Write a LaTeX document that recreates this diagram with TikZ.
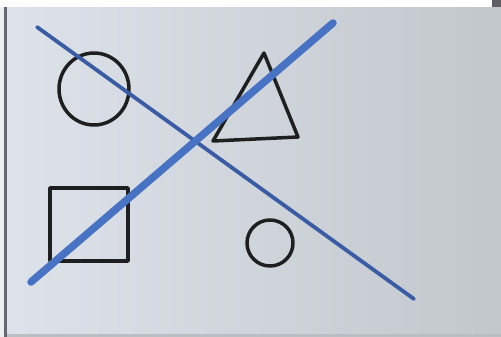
\documentclass[tikz,border=0pt]{standalone}
\definecolor{bgl}{RGB}{222,227,235}
\definecolor{bgr}{RGB}{194,198,205}
\definecolor{leftstrip}{RGB}{236,238,242}
\definecolor{edge}{RGB}{100,104,110}
\definecolor{corner}{RGB}{95,95,98}
\definecolor{bottomstrip}{RGB}{185,189,196}
\definecolor{blueA}{RGB}{58,92,165}
\definecolor{blueB}{RGB}{72,115,196}
\begin{document}
\begin{tikzpicture}[x=1pt,y=-1pt,
  ink/.style={draw=black!88,line width=3.5pt,line join=round,line cap=round},
  thinblue/.style={draw=blueA,line width=3.8pt,line cap=round},
  thickblue/.style={draw=blueB,line width=7.5pt,line cap=round}]
\useasboundingbox (0,0) rectangle (501,337);
\begin{scope}
\clip (0,0) rectangle (501,337);
% background board
\shade[left color=bgl,right color=bgr] (0,0) rectangle (501,337);
% white top strip and left strip
\fill[white] (0,0) rectangle (501,7);
\fill[leftstrip] (0,7) rectangle (4,337);
\fill[edge] (4,7) rectangle (6.5,337);
\fill[corner] (492,0) rectangle (501,7);
\fill[bottomstrip] (6.5,334) rectangle (501,337);
% shapes
\draw[ink] (94,89) ellipse (35 and 36);
\draw[ink] (50,188) rectangle (128,261);
\draw[ink] (264,53) -- (298,137) -- (213,141) -- cycle;
\draw[ink] (270,243) ellipse (23 and 23);
% lines
\draw[thinblue] (37,27) -- (414,299);
\draw[thickblue] (31,282) -- (333,23);
\end{scope}
\end{tikzpicture}
\end{document}
